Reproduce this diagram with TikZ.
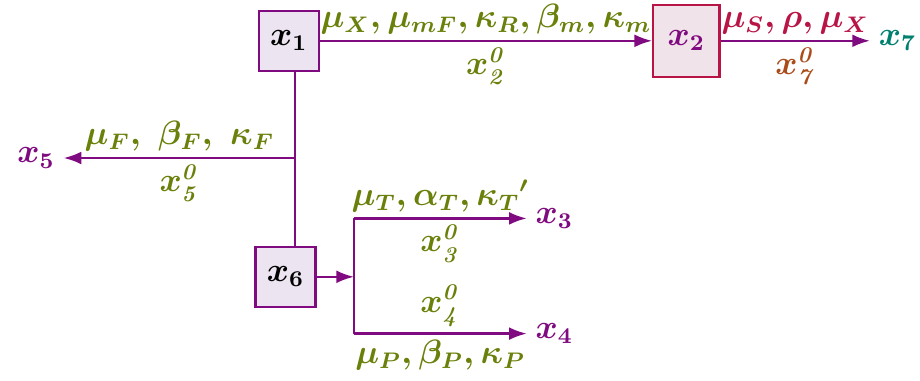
\documentclass[tikz,border=0pt]{standalone}
\usepackage{amsmath}
\usepackage{amssymb}
\usepackage{xcolor}
\usetikzlibrary{arrows.meta, positioning, calc}

\definecolor{linepurple}{RGB}{128,10,128}
\definecolor{labolive}{RGB}{105,128,10}
\definecolor{labred}{RGB}{185,20,70}
\definecolor{labbrown}{RGB}{170,75,25}
\definecolor{labteal}{RGB}{0,128,110}
\definecolor{boxfill}{RGB}{236,228,240}
\definecolor{boxfilltwo}{RGB}{240,228,234}

\tikzset{
  state/.style={draw=linepurple, fill=boxfill, thick, minimum size=0.75cm, inner sep=0pt, font=\boldmath\large},
  flow/.style={draw=linepurple, thick, -{Latex[length=2.2mm, width=1.6mm]}},
  rate/.style={text=labolive, font=\boldmath\large, inner sep=2pt},
  outnode/.style={text=linepurple, font=\boldmath\large, inner sep=3pt}
}

\begin{document}
\begin{tikzpicture}
\useasboundingbox (0,0) rectangle (11.5,4.75);

% compartments
\node[state] (x1) at (3.61,4.24) {$x_1$};
\node[state, draw=labred, fill=boxfilltwo, minimum width=0.83cm, minimum height=0.9cm, text=linepurple] (x2) at (8.58,4.24) {$x_2$};
\node[state] (x6) at (3.57,1.29) {$x_6$};

% outputs
\node[outnode, text=labteal] (x7) at (11.22,4.24) {$x_7$};
\node[outnode] (x5) at (0.45,2.775) {$x_5$};
\node[outnode] (x3) at (6.93,2.02) {$x_3$};
\node[outnode] (x4) at (6.93,0.58) {$x_4$};

\coordinate (j5) at (3.69,2.775);
\coordinate (br) at (4.425,1.29);

% x1 -> x2 -> x7
\draw[flow] (x1) -- (x2)
  node[rate, midway, above] {$\mu_X, \mu_{mF}, \kappa_R, \beta_m, \kappa_m$}
  node[rate, midway, below] {$x^{\mathit{0}}_{\mathit{2}}$};
\draw[flow] (x2) -- (x7)
  node[rate, text=labred, midway, above] {$\mu_S, \rho, \mu_X$}
  node[rate, text=labbrown, midway, below] {$x^{\mathit{0}}_{\mathit{7}}$};

% x1 -- x6 with branch to x5
\draw[linepurple, thick] (x1.south -| j5) -- (x6.north -| j5);
\draw[flow] (j5) -- (x5)
  node[rate, midway, above] {$\mu_F,\ \beta_F,\ \kappa_F$}
  node[rate, midway, below] {$x^{\mathit{0}}_{\mathit{5}}$};

% x6 -> x3, x4
\draw[flow] (x6) -- (br);
\draw[linepurple, thick] (br |- x3) -- (br |- x4);
\draw[flow] (br |- x3) -- (x3)
  node[rate, midway, above] {$\mu_T, \alpha_T, \kappa_T{}'$}
  node[rate, midway, below] {$x^{\mathit{0}}_{\mathit{3}}$};
\draw[flow] (br |- x4) -- (x4)
  node[rate, midway, above] {$x^{\mathit{0}}_{\mathit{4}}$}
  node[rate, midway, below] {$\mu_P, \beta_P, \kappa_P$};
\end{tikzpicture}
\end{document}
